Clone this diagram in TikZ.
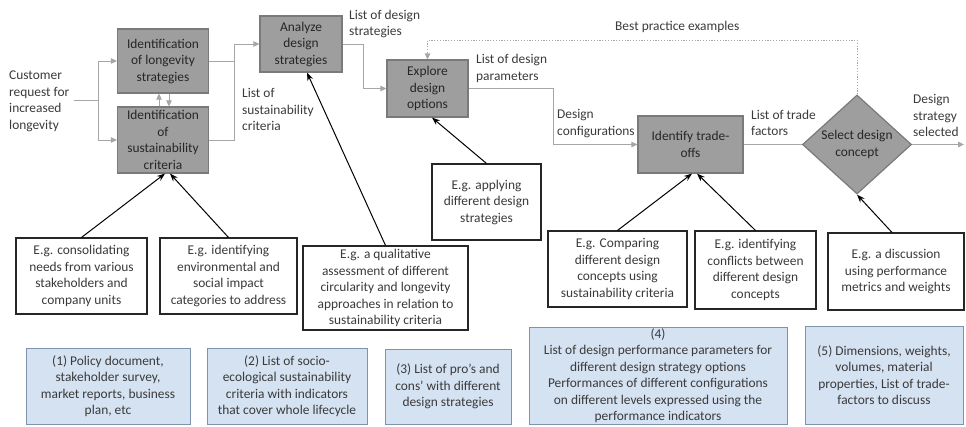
\documentclass[tikz,border=0pt]{standalone}
\usepackage{fontspec}
\setmainfont{Carlito}
\usetikzlibrary{arrows.meta,shapes.geometric}
\newcommand\diagfont{\fontsize{13.4}{16.5}\selectfont}
\definecolor{procfill}{HTML}{9E9E9E}
\definecolor{procedge}{HTML}{7A7A7A}
\definecolor{flowgray}{HTML}{A6A6A6}
\definecolor{ink}{HTML}{3A3A3A}
\definecolor{docfill}{HTML}{D5E2F2}
\definecolor{docedge}{HTML}{7F92AE}
\tikzset{
  every node/.style={font=\diagfont, text=ink},
  proc/.style={rectangle, fill=procfill, draw=procedge, line width=1.2pt,
    align=center, inner sep=0pt, text=black!85},
  decide/.style={diamond, fill=procfill, draw=procedge, line width=1.2pt,
    align=center, inner sep=0pt, text=black!85},
  note/.style={rectangle, draw=black!85, line width=1.1pt, fill=white,
    align=center, inner sep=0pt},
  doc/.style={rectangle, fill=docfill, draw=docedge, line width=1pt,
    align=center, inner sep=0pt},
  lbl/.style={align=left, inner sep=0pt, anchor=west},
  flowline/.style={draw=flowgray, line width=1pt},
  flow/.style={flowline, -{Triangle[length=6pt,width=5.5pt]}, color=flowgray},
  dotflow/.style={draw=flowgray, line width=1pt, dash pattern=on 1.2pt off 1.6pt,
    -{Triangle[length=6pt,width=5.5pt]}, color=flowgray},
  hint/.style={draw=black, line width=1pt, -{Stealth[length=8pt,width=6pt]}},
}
\begin{document}
\begin{tikzpicture}[x=1pt,y=-1pt]
\useasboundingbox (0,0) rectangle (966,426);

% process steps
\node[proc, minimum width=91pt, minimum height=64pt] (long) at (163,61)
  {Identification\\of longevity\\strategies};
\node[proc, minimum width=91pt, minimum height=66pt] (sust) at (163,140)
  {Identification\\of\\sustainability\\criteria};
\node[proc, minimum width=82pt, minimum height=56pt] (analyze) at (301,44)
  {Analyze\\design\\strategies};
\node[proc, minimum width=81pt, minimum height=57pt] (explore) at (427.5,88.5)
  {Explore\\design\\options};
\node[proc, minimum width=105pt, minimum height=57pt] (identify) at (690.5,144.5)
  {Identify trade-\\offs};
\node[decide, minimum width=109pt, minimum height=88pt] (select) at (857,144.5)
  {Select design\\concept};

% input and flow labels
\node[lbl] (cust) at (9,101.5) {Customer\\request for\\increased\\longevity};
\node[lbl] (lsc) at (242,109.5) {List of\\sustainability\\criteria};
\node[lbl] (lds) at (349,24) {List of design\\strategies};
\node[lbl] (ldp) at (476,68.5) {List of design\\parameters};
\node[lbl] (dcf) at (557,123.5) {Design\\configurations};
\node[lbl] (ltf) at (751,123) {List of trade\\factors};
\node[lbl] (dss) at (913,115.5) {Design\\strategy\\selected};
\node[inner sep=0pt, anchor=west] (bpe) at (615,27) {Best practice examples};

% junctions
\coordinate (split) at (98,100);
\coordinate (merge) at (234,44);
\coordinate (fb) at (427.5,40);
\coordinate (out) at (964,144.5);

% main flow
\draw[flowline] ([xshift=5pt]cust.east |- split) -- (split);
\draw[flow] (split) |- (long.west);
\draw[flow] (split) |- (sust.west);
\draw[flow] ([xshift=-4pt]sust.north) -- ([xshift=-4pt]long.south);
\draw[flow] ([xshift=6pt]long.south) -- ([xshift=6pt]sust.north);
\draw[flowline] (long.east) -- (long.east -| merge);
\draw[flow] (sust.east) -| (merge) -- (analyze.west);
\draw[flow] (analyze.east) -- ++(21,0) |- (explore.west);
\draw[flow] (explore.east) -- ++(85,0) |- (identify.west);
\draw[flowline] (identify.east) -- (select.west);
\draw[flow] (select.east) -- (out);
\draw[dotflow] (select.north) |- (fb) -- (explore.north);

% example activities
\node[note, minimum width=131pt, minimum height=76pt] (n1) at (81.5,276)
  {E.g. consolidating\\needs from various\\stakeholders and\\company units};
\node[note, minimum width=137pt, minimum height=76pt] (n2) at (228.5,276)
  {E.g. identifying\\environmental and\\social impact\\categories to address};
\node[note, minimum width=165pt, minimum height=84pt] (n3) at (385.5,288)
  {E.g. a qualitative\\assessment of different\\circularity and longevity\\approaches in relation to\\sustainability criteria};
\node[note, minimum width=109pt, minimum height=76pt] (n4) at (486.5,202)
  {E.g. applying\\different design\\strategies};
\node[note, minimum width=139pt, minimum height=76pt] (n5) at (617.5,269)
  {E.g. Comparing\\different design\\concepts using\\sustainability criteria};
\node[note, minimum width=121pt, minimum height=78pt] (n6) at (755.5,270)
  {E.g. identifying\\conflicts between\\different design\\concepts};
\node[note, minimum width=136pt, minimum height=77pt] (n7) at (896,271.5)
  {E.g. a discussion\\using performance\\metrics and weights};

\draw[hint] (n1.north) -- ([xshift=2pt]sust.south);
\draw[hint] (n2.north) -- ([xshift=7pt]sust.south);
\draw[hint] (n3.north) -- ([xshift=6pt]analyze.south);
\draw[hint] (n4.north) -- ([xshift=4.5pt]explore.south);
\draw[hint] (n5.north) -- ([xshift=1.5pt]identify.south);
\draw[hint] (n6.north) -- ([xshift=6.5pt]identify.south);
\draw[hint] ([xshift=-4pt]n7.north) -- (select.south);

% documents produced
\node[doc, minimum width=164pt, minimum height=76pt] (d1) at (108,386)
  {(1) Policy document,\\stakeholder survey,\\market reports, business\\plan, etc};
\node[doc, minimum width=160pt, minimum height=76pt] (d2) at (287,386)
  {(2) List of socio-\\ecological sustainability\\criteria with indicators\\that cover whole lifecycle};
\node[doc, minimum width=126pt, minimum height=75pt] (d3) at (448,386.5)
  {(3) List of pro’s and\\cons’ with different\\design strategies};
\node[doc, minimum width=258pt, minimum height=97pt] (d4) at (658,375.5)
  {(4)\\List of design performance parameters for\\different design strategy options\\Performances of different configurations\\on different levels expressed using the\\performance indicators};
\node[doc, minimum width=158pt, minimum height=98pt] (d5) at (884,375)
  {(5) Dimensions, weights,\\volumes, material\\properties, List of trade-\\factors to discuss};
\end{tikzpicture}
\end{document}
